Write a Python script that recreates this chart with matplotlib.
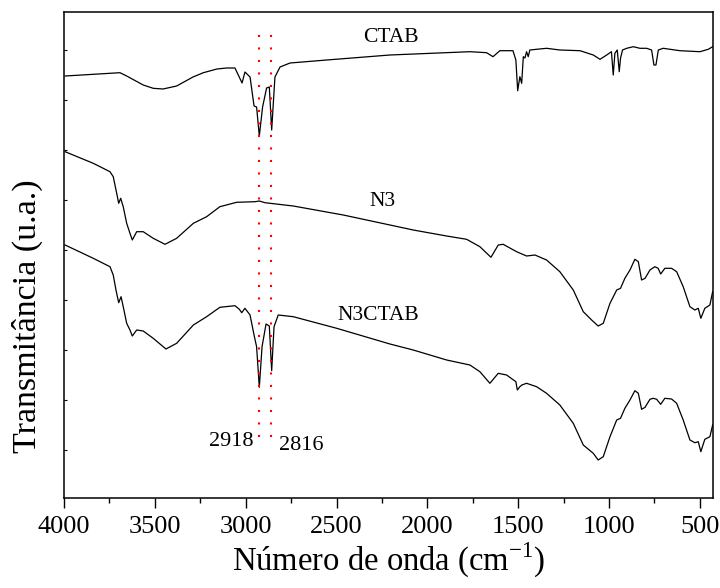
import matplotlib
matplotlib.use("Agg")
import matplotlib.pyplot as plt
import numpy as np
from matplotlib.ticker import MultipleLocator, FixedLocator

plt.rcParams["font.family"] = ["Liberation Serif", "DejaVu Serif"]
plt.rcParams["mathtext.fontset"] = "custom"
plt.rcParams["mathtext.rm"] = "Liberation Serif"

# wavenumber (cm-1) / transmittance (arbitrary units, curves offset as in the figure)
ctab_wn = [3994, 3692, 3655, 3564, 3509, 3455, 3380, 3290, 3233, 3158, 3105, 3059,
           3020, 3004, 2976, 2954, 2940, 2925, 2907, 2885, 2870, 2857, 2839, 2811,
           2756, 2554, 2206, 1766, 1674, 1639, 1601, 1529, 1513, 1503, 1491, 1481,
           1472, 1463, 1454, 1445, 1436, 1399, 1344, 1271, 1160, 1087, 1050, 1013,
           987, 977, 968, 955, 944, 937, 926, 903, 867, 830, 793, 766, 753, 742,
           729, 702, 610, 500, 454, 430]
ctab_t = [4.22, 4.253, 4.22, 4.13, 4.097, 4.09, 4.12, 4.21, 4.253, 4.29, 4.30, 4.30,
          4.15, 4.26, 4.21, 3.92, 3.91, 3.62, 3.91, 4.10, 4.11, 3.68, 4.21, 4.31,
          4.35, 4.38, 4.43, 4.463, 4.453, 4.413, 4.473, 4.473, 4.38, 4.073, 4.213, 4.147,
          4.413, 4.40, 4.463, 4.413, 4.48, 4.487, 4.497, 4.48, 4.473, 4.43, 4.387, 4.43,
          4.463, 4.23, 4.447, 4.48, 4.263, 4.397, 4.48, 4.497, 4.513, 4.497, 4.497, 4.48, 4.33, 4.33,
          4.48, 4.497, 4.473, 4.463, 4.487, 4.513]

n3_wn = [3994, 3839, 3747, 3729, 3710, 3699, 3688, 3674, 3655, 3637, 3624, 3600,
         3564, 3509, 3444, 3380, 3288, 3215, 3142, 3050, 2949, 2925, 2894, 2738,
         2463, 2206, 2078, 1894, 1784, 1711, 1650, 1610, 1583, 1509, 1454, 1408,
         1344, 1271, 1197, 1142, 1096, 1060, 1032, 995, 958, 937, 913, 885, 858,
         839, 821, 802, 775, 748, 730, 716, 693, 656, 628, 592, 555, 528, 509,
         495, 473, 445, 430]
n3_t = [3.463, 3.347, 3.263, 3.213, 3.047, 2.947, 2.997, 2.913, 2.747, 2.647, 2.58, 2.663,
        2.663, 2.597, 2.537, 2.597, 2.747, 2.813, 2.913, 2.957, 2.963, 2.97, 2.953, 2.92,
        2.83, 2.73, 2.68, 2.62, 2.587, 2.513, 2.407, 2.53, 2.537, 2.463, 2.42, 2.43,
        2.38, 2.263, 2.08, 1.863, 1.78, 1.72, 1.747, 1.947, 2.08, 2.097, 2.197, 2.28, 2.387,
        2.363, 2.18, 2.197, 2.28, 2.313, 2.297, 2.24, 2.297, 2.297, 2.263, 2.113, 1.913, 1.88, 1.897,
        1.797, 1.897, 1.93, 2.063]

n3ctab_wn = [3994, 3839, 3747, 3729, 3714, 3699, 3686, 3674, 3655, 3637, 3624, 3600,
             3564, 3509, 3439, 3380, 3288, 3215, 3142, 3059, 3035, 3022, 3004, 2976,
             2954, 2940, 2925, 2910, 2888, 2870, 2857, 2844, 2821, 2738, 2499, 2206,
             2078, 1894, 1766, 1711, 1656, 1610, 1564, 1513, 1505, 1491, 1480, 1454,
             1399, 1344, 1271, 1197, 1142, 1087, 1060, 1032, 995, 958, 937, 913, 885,
             858, 839, 821, 802, 775, 757, 738, 716, 693, 656, 628, 592, 555, 528,
             509, 495, 473, 445, 430]
n3ctab_t = [2.53, 2.397, 2.313, 2.23, 2.08, 1.953, 2.013, 1.913, 1.747, 1.68, 1.62, 1.68,
            1.67, 1.597, 1.49, 1.547, 1.73, 1.813, 1.907, 1.923, 1.887, 1.853, 1.897, 1.83,
            1.63, 1.513, 1.107, 1.513, 1.74, 1.72, 1.273, 1.713, 1.83, 1.813, 1.697, 1.54,
            1.48, 1.38, 1.33, 1.263, 1.147, 1.247, 1.23, 1.163, 1.08, 1.113, 1.13, 1.147,
            1.113, 1.047, 0.93, 0.747, 0.53, 0.447, 0.38, 0.413, 0.613, 0.78, 0.797, 0.897, 0.98,
            1.073, 1.047, 0.887, 0.907, 0.987, 0.997, 0.987, 0.937, 0.997, 0.99, 0.947, 0.78, 0.58, 0.553,
            0.563, 0.463, 0.587, 0.613, 0.73]

curve_labels = ["CTAB", "N3", "N3CTAB"]
label_wn = [2201, 2247, 2270]
label_t = [4.557, 2.923, 1.78]

peak_wn = [2925, 2858]
peak_text = ["2918", "2816"]
peak_text_wn = [3079, 2692]
peak_text_t = [0.523, 0.48]

fig = plt.figure(figsize=(7.2, 5.88), dpi=100)
ax = fig.add_axes([64 / 720, 90 / 588, 649 / 720, 486 / 588])

for wn, t in [(ctab_wn, ctab_t), (n3_wn, n3_t), (n3ctab_wn, n3ctab_t)]:
    ax.plot(wn, t, color="black", lw=0.9)

# dotted guides at the C-H stretching bands
for wn in peak_wn:
    ax.plot([wn, wn], [0.61, 4.66], color="red", lw=1.5, linestyle=(0, (1, 5)))

for lab, x, y in zip(curve_labels, label_wn, label_t):
    ax.text(x, y, lab, ha="center", va="baseline", fontsize=15.5)
for lab, x, y in zip(peak_text, peak_text_wn, peak_text_t):
    ax.text(x, y, lab, ha="center", va="baseline", fontsize=16)

ax.set_xlim(4000, 428)
ax.set_ylim(0, 4.86)

ax.xaxis.set_major_locator(MultipleLocator(500))
ax.xaxis.set_minor_locator(MultipleLocator(250))
ax.yaxis.set_major_locator(FixedLocator(np.arange(0.48, 4.86, 0.5)))
ax.tick_params(axis="x", which="major", direction="out", length=7, width=1, labelsize=19, pad=6)
ax.tick_params(axis="x", which="minor", direction="out", length=3.5, width=1)
ax.tick_params(axis="y", which="major", direction="in", length=2, width=0.8, labelleft=False)
for sp in ax.spines.values():
    sp.set_linewidth(1.1)

ax.set_xlabel("Número de onda (cm$^{-1}$)", fontsize=23.5, labelpad=2)
fig.text(27 / 720, 1 - 316.5 / 588, "Transmitância (u.a.)", rotation=90,
         ha="center", va="center", fontsize=24.5)

fig.savefig("out.png", dpi=100)
